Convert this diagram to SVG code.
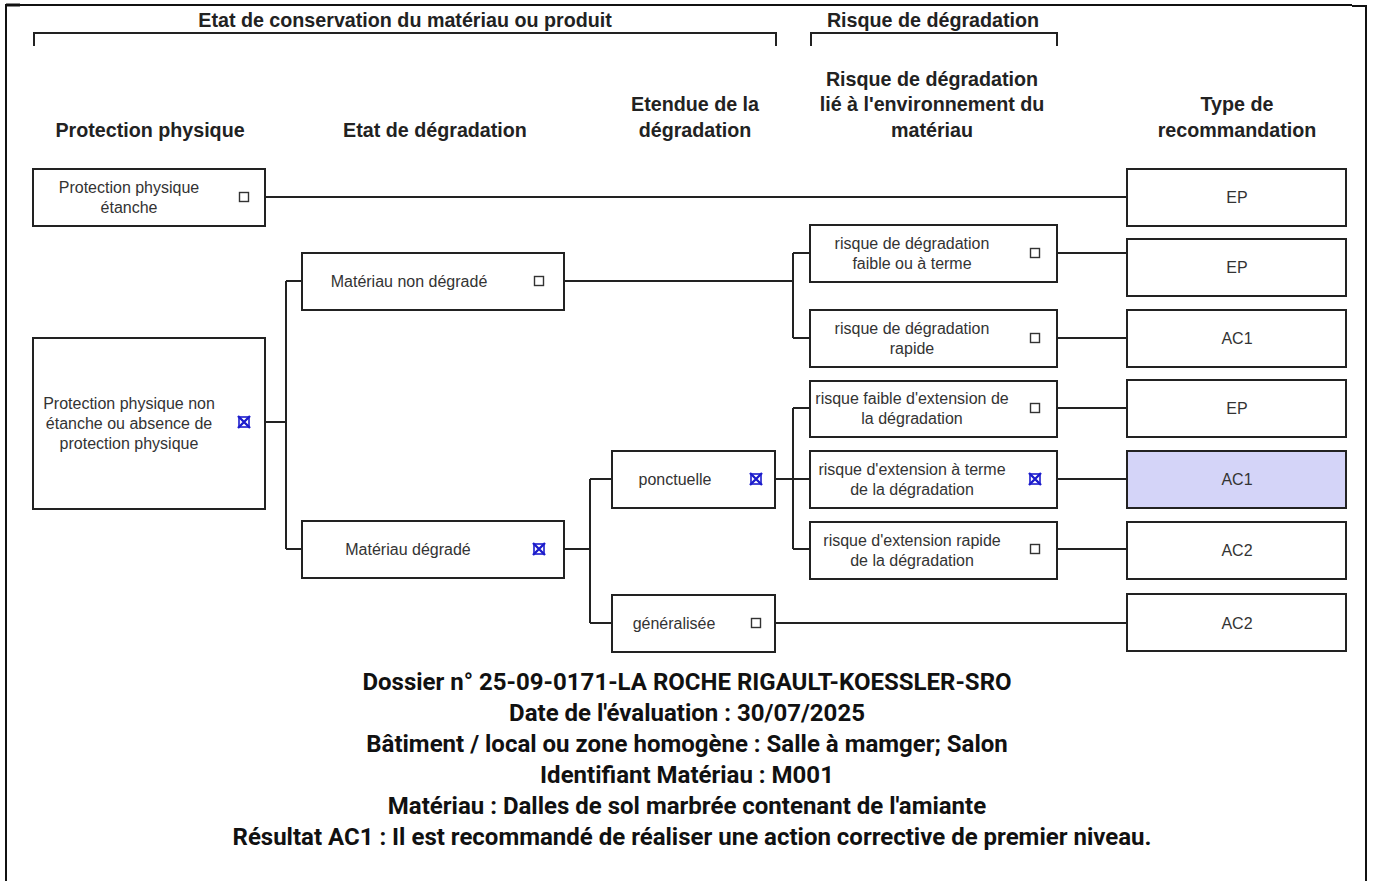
<svg xmlns="http://www.w3.org/2000/svg" width="1375" height="881" viewBox="0 0 1375 881">
<style>
.frame{fill:none;stroke:#111;stroke-width:2}
.box{fill:#fff;stroke:#222;stroke-width:2}
.sel{fill:#d4d4f8;stroke:#222;stroke-width:2}
.conn{fill:none;stroke:#222;stroke-width:2}
.br{fill:none;stroke:#222;stroke-width:2}
.h{font-family:"Liberation Sans",Arial,sans-serif;font-weight:bold;font-size:19.7px;fill:#222;text-anchor:middle}
.t{font-family:"Liberation Sans",Arial,sans-serif;font-size:16px;fill:#333;text-anchor:middle}
.b{font-family:Roboto,"Liberation Sans",sans-serif;font-weight:bold;font-size:24px;fill:#111;text-anchor:middle}
.cb{fill:#fff;stroke:#333;stroke-width:1.4}
.x{fill:none;stroke:#1c1ccc;stroke-width:2.4}
</style>
<defs>
<g id="cbx"><rect class="cb" x="-4.5" y="-4.5" width="9" height="9"/></g>
<g id="chk"><rect x="-5" y="-5" width="10" height="10" fill="none" stroke="#1c1ccc" stroke-width="1.6"/><path class="x" d="M-6,-6 L6,6 M6,-6 L-6,6"/></g>
</defs>
<rect width="1375" height="881" fill="#fff"/>
<path class="frame" d="M6,881 V5 H1352 M1352,6 H1366 V881"/>
<path d="M6,5 H20" stroke="#111" stroke-width="3"/>

<g id="header">
<text class="h" x="405" y="27">Etat de conservation du matériau ou produit</text>
<path class="br" d="M34,46 V33 H776 V46"/>
<text class="h" x="933" y="27">Risque de dégradation</text>
<path class="br" d="M811,46 V33 H1057 V46"/>
<text class="h" x="150" y="137">Protection physique</text>
<text class="h" x="435" y="137">Etat de dégradation</text>
<text class="h" x="695" y="111">Etendue de la</text>
<text class="h" x="695" y="137">dégradation</text>
<text class="h" x="932" y="86">Risque de dégradation</text>
<text class="h" x="932" y="111">lié à l'environnement du</text>
<text class="h" x="932" y="137">matériau</text>
<text class="h" x="1237" y="111">Type de</text>
<text class="h" x="1237" y="137">recommandation</text>
</g>

<g id="connectors">
<path class="conn" d="M265,197 H1127"/>
<path class="conn" d="M265,422 H286 M286,281 V549 M286,281 H302 M286,549 H302"/>
<path class="conn" d="M564,281 H793 M793,253 V338 M793,253 H810 M793,338 H810"/>
<path class="conn" d="M564,549 H590 M590,479 V623 M590,479 H612 M590,623 H612"/>
<path class="conn" d="M775,479 H810 M793,408 V549 M793,408 H810 M793,549 H810"/>
<path class="conn" d="M775,623 H1127"/>
<path class="conn" d="M1057,253 H1127 M1057,338 H1127 M1057,408 H1127 M1057,479 H1127 M1057,549 H1127"/>
</g>

<g id="n-protection-etanche">
<rect class="box" x="33" y="169" width="232" height="57"/>
<text class="t" x="129" y="193">Protection physique</text>
<text class="t" x="129" y="213">étanche</text>
<use href="#cbx" x="244" y="197"/>
</g>
<g id="n-protection-non-etanche">
<rect class="box" x="33" y="338" width="232" height="171"/>
<text class="t" x="129" y="409">Protection physique non</text>
<text class="t" x="129" y="429">étanche ou absence de</text>
<text class="t" x="129" y="449">protection physique</text>
<use href="#chk" x="244" y="422"/>
</g>
<g id="n-non-degrade">
<rect class="box" x="302" y="253" width="262" height="57"/>
<text class="t" x="409" y="287">Matériau non dégradé</text>
<use href="#cbx" x="539" y="281"/>
</g>
<g id="n-degrade">
<rect class="box" x="302" y="521" width="262" height="57"/>
<text class="t" x="408" y="555">Matériau dégradé</text>
<use href="#chk" x="539" y="549"/>
</g>
<g id="n-ponctuelle">
<rect class="box" x="612" y="451" width="163" height="57"/>
<text class="t" x="675" y="485">ponctuelle</text>
<use href="#chk" x="756" y="479"/>
</g>
<g id="n-generalisee">
<rect class="box" x="612" y="595" width="163" height="57"/>
<text class="t" x="674" y="629">généralisée</text>
<use href="#cbx" x="756" y="623"/>
</g>
<g id="n-r1">
<rect class="box" x="810" y="225" width="247" height="57"/>
<text class="t" x="912" y="249">risque de dégradation</text>
<text class="t" x="912" y="269">faible ou à terme</text>
<use href="#cbx" x="1035" y="253"/>
</g>
<g id="n-r2">
<rect class="box" x="810" y="310" width="247" height="57"/>
<text class="t" x="912" y="334">risque de dégradation</text>
<text class="t" x="912" y="354">rapide</text>
<use href="#cbx" x="1035" y="338"/>
</g>
<g id="n-r3">
<rect class="box" x="810" y="381" width="247" height="56"/>
<text class="t" x="912" y="404">risque faible d'extension de</text>
<text class="t" x="912" y="424">la dégradation</text>
<use href="#cbx" x="1035" y="408"/>
</g>
<g id="n-r4">
<rect class="box" x="810" y="451" width="247" height="57"/>
<text class="t" x="912" y="475">risque d'extension à terme</text>
<text class="t" x="912" y="495">de la dégradation</text>
<use href="#chk" x="1035" y="479"/>
</g>
<g id="n-r5">
<rect class="box" x="810" y="522" width="247" height="57"/>
<text class="t" x="912" y="546">risque d'extension rapide</text>
<text class="t" x="912" y="566">de la dégradation</text>
<use href="#cbx" x="1035" y="549"/>
</g>
<g id="n-rec1"><rect class="box" x="1127" y="169" width="219" height="57"/><text class="t" x="1237" y="203">EP</text></g>
<g id="n-rec2"><rect class="box" x="1127" y="239" width="219" height="57"/><text class="t" x="1237" y="273">EP</text></g>
<g id="n-rec3"><rect class="box" x="1127" y="310" width="219" height="57"/><text class="t" x="1237" y="344">AC1</text></g>
<g id="n-rec4"><rect class="box" x="1127" y="380" width="219" height="57"/><text class="t" x="1237" y="414">EP</text></g>
<g id="n-rec5"><rect class="sel" x="1127" y="451" width="219" height="57"/><text class="t" x="1237" y="485">AC1</text></g>
<g id="n-rec6"><rect class="box" x="1127" y="522" width="219" height="57"/><text class="t" x="1237" y="556">AC2</text></g>
<g id="n-rec7"><rect class="box" x="1127" y="594" width="219" height="57"/><text class="t" x="1237" y="629">AC2</text></g>

<g id="footer">
<text class="b" x="687" y="690">Dossier n° 25-09-0171-LA ROCHE RIGAULT-KOESSLER-SRO</text>
<text class="b" x="687" y="721">Date de l'évaluation : 30/07/2025</text>
<text class="b" x="687" y="752">Bâtiment / local ou zone homogène : Salle à mamger; Salon</text>
<text class="b" x="687" y="783">Identifiant Matériau : M001</text>
<text class="b" x="687" y="814">Matériau : Dalles de sol marbrée contenant de l'amiante</text>
<text class="b" x="692" y="845">Résultat AC1 : Il est recommandé de réaliser une action corrective de premier niveau.</text>
</g>
</svg>
